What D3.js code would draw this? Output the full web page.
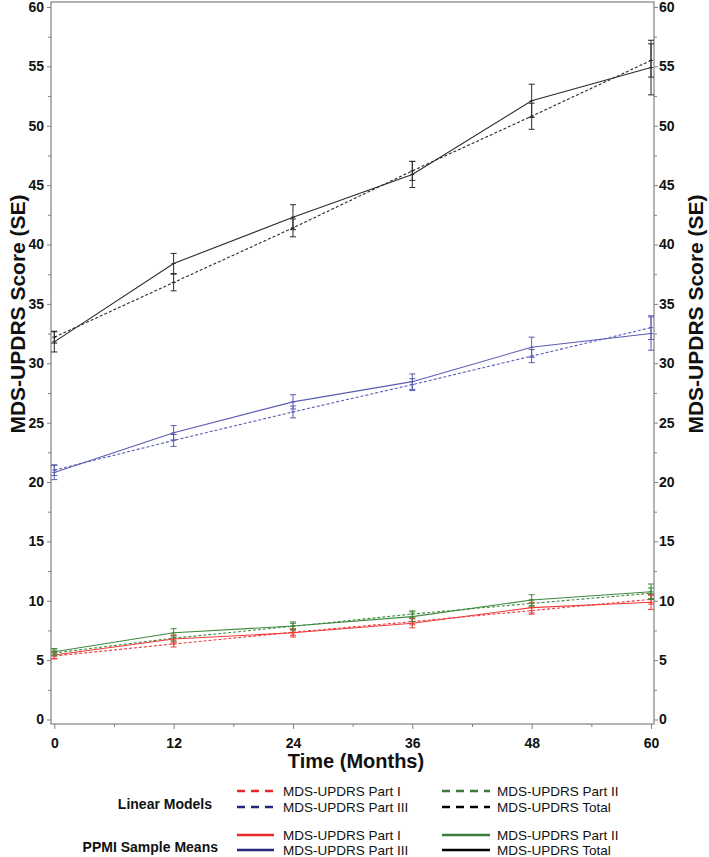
<!DOCTYPE html>
<html><head><meta charset="utf-8">
<script src="https://cdn.jsdelivr.net/npm/d3@7/dist/d3.min.js"></script>
<style>
html,body{margin:0;padding:0;background:#fff;}
svg text{font-family:"Liberation Sans",Arial,Helvetica,sans-serif;}
</style></head>
<body>
<svg id="chart" width="709" height="857"></svg>
<script>
// ---------- data ----------
const months = [0, 12, 24, 36, 48, 60];
const xTickValues = [0, 12, 24, 36, 48, 60];
const xMinorTicks = [6, 18, 30, 42, 54];
const yTickValues = [0, 5, 10, 15, 20, 25, 30, 35, 40, 45, 50, 55, 60];
const yMinorTicks = [2.5, 7.5, 12.5, 17.5, 22.5, 27.5, 32.5, 37.5, 42.5, 47.5, 52.5, 57.5];

// PPMI sample means (solid) and SE
const part1Mean = [5.43, 6.78, 7.30, 8.10, 9.42, 9.87];
const part1SE   = [0.30, 0.33, 0.35, 0.38, 0.45, 0.60];
const part2Mean = [5.70, 7.30, 7.87, 8.66, 10.06, 10.76];
const part2SE   = [0.28, 0.35, 0.35, 0.40, 0.45, 0.65];
const part3Mean = [20.8, 24.15, 26.75, 28.45, 31.35, 32.5];
const part3SE   = [0.60, 0.60, 0.60, 0.65, 0.85, 1.40];
const totalMean = [31.8, 38.4, 42.3, 45.9, 52.1, 54.9];
const totalSE   = [0.85, 0.85, 1.05, 1.10, 1.40, 2.30];

// Linear model estimates (dashed) and SE
const part1Lin   = [5.35, 6.36, 7.35, 8.24, 9.17, 10.12];
const part1LinSE = [0.25, 0.25, 0.25, 0.27, 0.30, 0.40];
const part2Lin   = [5.60, 6.85, 7.85, 8.88, 9.78, 10.63];
const part2LinSE = [0.25, 0.25, 0.25, 0.27, 0.30, 0.45];
const part3Lin   = [21.0, 23.5, 25.9, 28.2, 30.6, 33.0];
const part3LinSE = [0.45, 0.50, 0.50, 0.50, 0.55, 1.00];
const totalLin   = [32.2, 36.8, 41.4, 46.2, 50.8, 55.5];
const totalLinSE = [0.50, 0.70, 0.75, 0.80, 1.10, 1.40];

const seriesNames = ["MDS-UPDRS Part I", "MDS-UPDRS Part II", "MDS-UPDRS Part III", "MDS-UPDRS Total"];
const plotColors   = ["#f03a3a", "#3f8a3f", "#5b5bb5", "#2a2a2a"];
const legendColors = ["#e8262a", "#3a7a3a", "#25257a", "#000000"];
const legendGroups = ["Linear Models", "PPMI Sample Means"];

const meanSeries = [
  {mean: part1Mean, se: part1SE}, {mean: part2Mean, se: part2SE},
  {mean: part3Mean, se: part3SE}, {mean: totalMean, se: totalSE}
];
const linSeries = [
  {mean: part1Lin, se: part1LinSE}, {mean: part2Lin, se: part2LinSE},
  {mean: part3Lin, se: part3LinSE}, {mean: totalLin, se: totalLinSE}
];

// ---------- layout ----------
const svg = d3.select("#chart");
const frame = {left: 51, right: 654, top: 2, bottom: 724};
const x = d3.scaleLinear().domain([0, 60]).range([54.3, 651]);
const y = d3.scaleLinear().domain([0, 60]).range([719.5, 7]);
const axisColor = "#808080";
const FONT = '"Liberation Sans",Arial,Helvetica,sans-serif';

// frame
svg.append("rect").attr("x", frame.left).attr("y", frame.top)
  .attr("width", frame.right - frame.left).attr("height", frame.bottom - frame.top)
  .attr("fill", "none").attr("stroke", axisColor).attr("stroke-width", 1.2);

function styleAxis(g) {
  g.select(".domain").remove();
  g.selectAll(".tick line").attr("stroke", axisColor).attr("stroke-width", 1);
  g.selectAll(".tick text").attr("fill", "#111").attr("font-weight", "bold")
    .attr("font-size", 14).attr("font-family", FONT);
}

// left axis
svg.append("g").attr("transform", `translate(${frame.left},0)`)
  .call(d3.axisLeft(y).tickValues(yTickValues).tickSize(4).tickPadding(3).tickFormat(d3.format("d")))
  .call(styleAxis);
svg.append("g").attr("transform", `translate(${frame.left},0)`)
  .call(d3.axisLeft(y).tickValues(yMinorTicks).tickSize(3).tickFormat(""))
  .call(styleAxis);
// right axis
svg.append("g").attr("transform", `translate(${frame.right},0)`)
  .call(d3.axisRight(y).tickValues(yTickValues).tickSize(4).tickPadding(1).tickFormat(d3.format("d")))
  .call(styleAxis);
svg.append("g").attr("transform", `translate(${frame.right},0)`)
  .call(d3.axisRight(y).tickValues(yMinorTicks).tickSize(3).tickFormat(""))
  .call(styleAxis);
// bottom axis
svg.append("g").attr("transform", `translate(0,${frame.bottom})`)
  .call(d3.axisBottom(x).tickValues(xTickValues).tickSize(5).tickPadding(9).tickFormat(d3.format("d")))
  .call(styleAxis);
svg.append("g").attr("transform", `translate(0,${frame.bottom})`)
  .call(d3.axisBottom(x).tickValues(xMinorTicks).tickSize(3).tickFormat(""))
  .call(styleAxis);

// axis titles
svg.append("text").attr("x", 356).attr("y", 768).attr("text-anchor", "middle")
  .attr("font-weight", "bold").attr("font-size", 20).attr("fill", "#111").text("Time (Months)");
svg.append("text").attr("transform", "translate(25,314) rotate(-90)").attr("text-anchor", "middle")
  .attr("font-weight", "bold").attr("font-size", 21).attr("fill", "#111").text("MDS-UPDRS Score (SE)");
svg.append("text").attr("transform", "translate(703,314) rotate(-90)").attr("text-anchor", "middle")
  .attr("font-weight", "bold").attr("font-size", 21).attr("fill", "#111").text("MDS-UPDRS Score (SE)");

// ---------- series ----------
const line = d3.line().x((d, i) => x(months[i])).y(d => y(d));
const plot = svg.append("g");

function drawSeries(s, color, dashed) {
  const g = plot.append("g");
  g.append("path").attr("d", line(s.mean)).attr("fill", "none")
    .attr("stroke", color).attr("stroke-width", 1.1)
    .attr("stroke-dasharray", dashed ? "3,2" : null);
  const cap = 3;
  s.mean.forEach((m, i) => {
    const cx = x(months[i]);
    const top = y(m + s.se[i]), bot = y(m - s.se[i]);
    g.append("line").attr("x1", cx).attr("x2", cx).attr("y1", top).attr("y2", bot)
      .attr("stroke", color).attr("stroke-width", 1);
    [top, bot].forEach(yy => g.append("line").attr("x1", cx - cap).attr("x2", cx + cap)
      .attr("y1", yy).attr("y2", yy).attr("stroke", color).attr("stroke-width", 1));
    g.append("line").attr("x1", cx - 2).attr("x2", cx + 2).attr("y1", y(m)).attr("y2", y(m))
      .attr("stroke", color).attr("stroke-width", 1);
  });
}
linSeries.forEach((s, i) => drawSeries(s, plotColors[i], true));
meanSeries.forEach((s, i) => drawSeries(s, plotColors[i], false));

// ---------- legend ----------
const legendTitlePos = [{x: 212, y: 809}, {x: 218, y: 852}];
const legendRows = [[791, 807], [835, 850]];
const colX = [{x1: 237, x2: 274, tx: 283}, {x1: 442, x2: 490, tx: 497}];
// order within group: [Part I, Part II, Part III, Total] -> (row,col)
const legendCells = [[0, 0], [0, 1], [1, 0], [1, 1]];

legendGroups.forEach((grp, gi) => {
  svg.append("text").attr("x", legendTitlePos[gi].x).attr("y", legendTitlePos[gi].y)
    .attr("text-anchor", "end").attr("font-weight", "bold").attr("font-size", 14)
    .attr("fill", "#111").text(grp);
  seriesNames.forEach((name, si) => {
    const [r, c] = legendCells[si];
    const yy = legendRows[gi][r];
    const col = colX[c];
    svg.append("line").attr("x1", col.x1).attr("x2", col.x2).attr("y1", yy).attr("y2", yy)
      .attr("stroke", legendColors[si]).attr("stroke-width", 2.6)
      .attr("stroke-dasharray", gi === 0 ? "8,6" : null);
    svg.append("text").attr("x", col.tx).attr("y", yy + 4.5).attr("font-size", 13.5)
      .attr("fill", "#111").text(name);
  });
});
</script>
</body></html>
